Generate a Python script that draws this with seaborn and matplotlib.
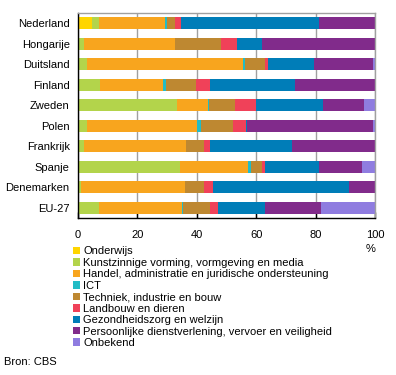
import matplotlib
matplotlib.use("Agg")
import matplotlib.pyplot as plt
import seaborn as sns
import pandas as pd
import numpy as np
from matplotlib.patches import Patch

countries = ["Nederland", "Hongarije", "Duitsland", "Finland", "Zweden",
             "Polen", "Frankrijk", "Spanje", "Denemarken", "EU-27"]
sectors = ["Onderwijs",
           "Kunstzinnige vorming, vormgeving en media",
           "Handel, administratie en juridische ondersteuning",
           "ICT",
           "Techniek, industrie en bouw",
           "Landbouw en dieren",
           "Gezondheidszorg en welzijn",
           "Persoonlijke dienstverlening, vervoer en veiligheid",
           "Onbekend"]
colors = ["#FFD500", "#B3D44B", "#F8A51E", "#22BCC5", "#BE8831",
          "#F04159", "#007DB8", "#812B8B", "#8F7CE0"]

onderwijs   = [4.6, 0.0, 0.0, 0.0, 0.0, 0.0, 0.0, 0.0, 0.0, 0.3]
kunst       = [2.5, 1.9, 2.9, 7.3, 33.2, 2.9, 1.9, 34.2, 0.9, 6.8]
handel      = [22.3, 30.9, 52.8, 21.2, 10.7, 37.3, 34.3, 23.2, 35.0, 27.8]
ict         = [0.4, 0.0, 0.6, 1.0, 0.2, 1.3, 0.0, 1.0, 0.0, 0.4]
techniek    = [2.7, 15.2, 6.5, 10.1, 8.6, 10.8, 6.1, 3.7, 6.4, 9.0]
landbouw    = [2.3, 5.7, 1.3, 5.0, 7.4, 4.4, 2.0, 0.7, 3.0, 2.7]
gezondheid  = [46.4, 8.4, 15.5, 28.6, 22.5, 0.3, 27.9, 18.4, 46.0, 16.1]
persoonlijk = [18.8, 37.9, 19.8, 26.8, 13.8, 42.4, 27.8, 14.4, 8.7, 18.8]
onbekend    = [0.0, 0.0, 0.6, 0.0, 3.6, 0.6, 0.0, 4.4, 0.0, 18.1]

series = [onderwijs, kunst, handel, ict, techniek, landbouw,
          gezondheid, persoonlijk, onbekend]
xticks = [0, 20, 40, 60, 80, 100]

df = pd.DataFrame(np.array(series).T, columns=sectors)
df["land"] = countries
cum = df[sectors].cumsum(axis=1)
cum["land"] = countries

plt.rcParams['font.family'] = ['Liberation Sans', 'DejaVu Sans']
fig = plt.figure(figsize=(3.96, 3.75), dpi=100)
ax = fig.add_axes([78/396, 1-218/375, 297/396, 205/375])

for i in range(len(sectors)-1, -1, -1):
    sns.barplot(data=cum, y="land", x=sectors[i], order=countries,
                color=colors[i], orient="h", width=0.57, ax=ax,
                saturation=1, linewidth=0, zorder=2)

ax.set_xlim(0, 100)
ax.set_xticks(xticks)
ax.set_xticklabels([str(t) for t in xticks], fontsize=8)
ax.set_xlabel("")
ax.set_ylabel("")
ax.tick_params(axis="y", length=0, pad=6, labelsize=8)
ax.tick_params(axis="x", direction="in", length=4, width=1, pad=9, color="black")
ax.grid(axis="x", color="#A0A0A0", linewidth=1, zorder=0)
ax.set_axisbelow(True)
for s in ["top", "right"]:
    ax.spines[s].set_color("#A0A0A0")
    ax.spines[s].set_linewidth(1)
for s in ["left", "bottom"]:
    ax.spines[s].set_color("black")
    ax.spines[s].set_linewidth(1)

fig.text(370.7/396, 1-249/375, "%", fontsize=8, ha="center", va="center")

handles = [Patch(facecolor=c, edgecolor="none") for c in colors]
fig.legend(handles, sectors, loc="upper left",
           bbox_to_anchor=(73/396, 1-246.5/375), frameon=False, fontsize=8,
           handlelength=0.65, handleheight=0.65, handletextpad=0.25,
           labelspacing=0.13, borderpad=0, borderaxespad=0)

fig.text(4/396, 1-362/375, "Bron: CBS", fontsize=8, ha="left", va="center")

fig.savefig("out.png", dpi=100)
